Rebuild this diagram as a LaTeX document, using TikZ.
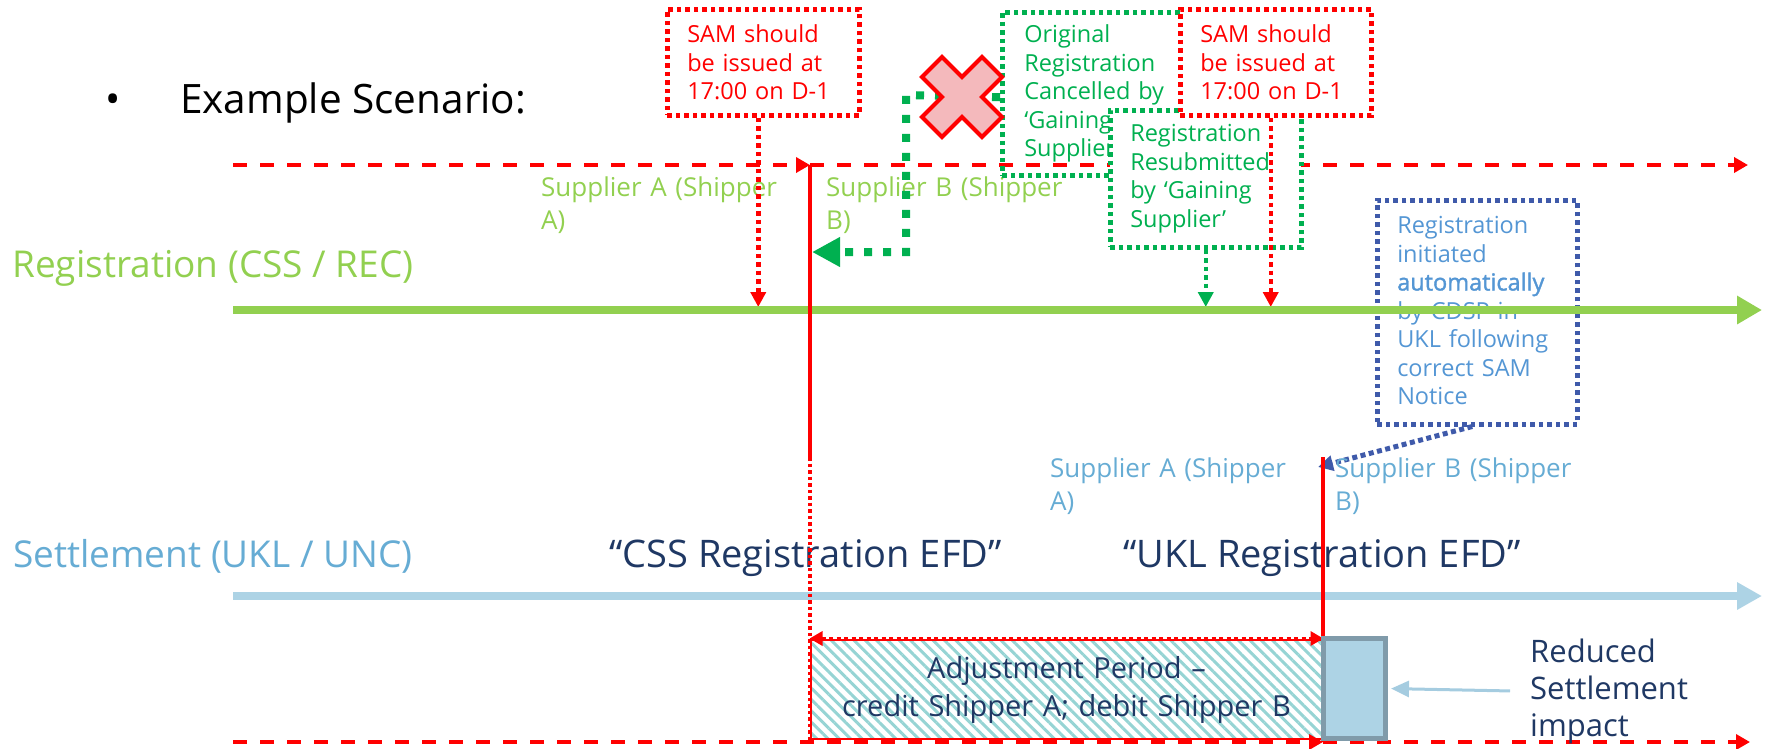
\documentclass[tikz,border=0pt]{standalone}
\usepackage{fontspec}
\setmainfont{Open Sans}
\newfontfamily\fSemi[FakeBold=1.6]{Open Sans}
\usetikzlibrary{arrows.meta,patterns.meta}
\definecolor{cRed}{RGB}{255,0,0}
\definecolor{cLGreen}{RGB}{146,208,80}
\definecolor{cDGreen}{RGB}{0,176,80}
\definecolor{cLine}{RGB}{173,211,229}
\definecolor{cSet}{RGB}{102,172,212}
\definecolor{cBoxTxt}{RGB}{84,150,212}
\definecolor{cDBlue}{RGB}{63,90,170}
\definecolor{cNavy}{RGB}{31,56,100}
\definecolor{cHatch}{RGB}{150,212,212}
\definecolor{cPink}{RGB}{244,185,188}
\definecolor{cBord}{RGB}{128,155,170}
\definecolor{cArr}{RGB}{165,204,224}
\newcommand\fTitle{\fontsize{40.5}{48}\selectfont}
\newcommand\fLane{\fontsize{37}{44}\selectfont}
\newcommand\fEfd{\fontsize{38}{44}\selectfont}
\newcommand\fBox{\fontsize{23.5}{28.5}\selectfont\hyphenpenalty=10000\exhyphenpenalty=10000}
\newcommand\fSup{\fontsize{26}{33}\selectfont}
\newcommand\fAdj{\fontsize{29}{38}\selectfont}
\newcommand\fRed{\fontsize{31}{37}\selectfont}
\tikzset{
  lbl/.style={inner sep=0pt, anchor=base west},
  mlbl/.style={inner sep=0pt, anchor=base west, text width=#1, align=left},
  dotbox/.style={line width=4.5pt, dash pattern=on 4.5pt off 4pt, inner xsep=20pt, inner ysep=0pt, anchor=north west, align=left, font=\fBox},
  rdash/.style={draw=cRed, line width=4.5pt, dash pattern=on 14pt off 13pt, -{Triangle[length=14pt,width=15pt]}},
  rdot/.style={draw=cRed, line width=4.5pt, dash pattern=on 4.5pt off 4pt},
  gdot/.style={draw=cDGreen, line width=4.5pt, dash pattern=on 4.5pt off 4pt},
  bdot/.style={draw=cDBlue, line width=5pt, dash pattern=on 5pt off 3.5pt, -{Triangle[length=15pt,width=15pt]}},
  tipd/.style={-{Triangle[length=15pt,width=15pt]}},
  gthick/.style={draw=cDGreen, line width=8pt, dash pattern=on 8pt off 11pt, -{Triangle[length=28pt,width=28pt]}},
  xmark/.style={draw=cRed, fill=cPink, line width=4pt, line join=miter},
  gline/.style={draw=cLGreen, line width=7.5pt, -{Triangle[length=25pt,width=27pt]}},
  sline/.style={draw=cLine, line width=8.5pt, -{Triangle[length=25pt,width=26pt]}},
  rsolid/.style={draw=cRed, line width=3.5pt},
  rthin/.style={draw=cRed, line width=3.5pt, dash pattern=on 3.5pt off 3pt},
  rdot2/.style={draw=cRed, line width=4pt, dash pattern=on 4pt off 3.5pt, {Triangle[length=13pt,width=14pt]}-{Triangle[length=13pt,width=14pt]}},
  adjbox/.style={draw=cRed, line width=1.5pt, pattern={Lines[angle=-45,distance=8pt,line width=3pt]}, pattern color=cHatch, minimum width=511pt, minimum height=99pt, text width=505pt, inner sep=0pt, align=center, font=\fAdj, text=cNavy},
  rbox/.style={draw=cBord, fill=cLine, line width=5pt, minimum width=62pt, minimum height=100pt, inner sep=0pt},
  larrow/.style={draw=cArr, line width=3pt, shorten >=3pt, -{Triangle[length=18pt,width=16pt]}}
}
\begin{document}
\begin{tikzpicture}[x=1pt,y=-1pt]
\useasboundingbox (0,0) rectangle (1768,748);
\coordinate (ts) at (233,165);
\coordinate (tm) at (810,165);
\coordinate (te) at (1748,165);
\coordinate (rs) at (233,310);
\coordinate (re) at (1762,310);
\coordinate (ss) at (233,596);
\coordinate (se) at (1762,596);
\coordinate (bs) at (233,742);
\coordinate (bm) at (1323,742);
\coordinate (be) at (1750,742);
\coordinate (v1m) at (810,457);
\coordinate (v1b) at (810,742);
\coordinate (v2t) at (1323,457);
\coordinate (v2a) at (1318,467);
\coordinate (gtip) at (812,252);
\coordinate (xc) at (962,97);

\node[lbl, font=\fTitle] (title) at (105,113) {\makebox[75pt][l]{•}Example Scenario:};

\draw[rdash] (ts) -- (tm);
\draw[rdash] (tm) -- (te);

\node[mlbl=260pt, font=\fSup, text=cLGreen] (supA) at (541,196) {Supplier A (Shipper\\A)};
\node[mlbl=260pt, font=\fSup, text=cLGreen] (supB) at (826,196) {Supplier B (Shipper\\B)};

\node[dotbox, draw=cDGreen, text=cDGreen, text width=146pt, inner xsep=22pt, minimum height=163pt] (orig) at (1000,10) {Original\\Registration\\Cancelled by\\‘Gaining\\Supplier’};

\draw[gthick] ([yshift=-3.5pt]orig.west) -- (906,95) -- (906,252) -- (gtip);
\draw[xmark] (xc) ++(0,-20) -- ++(20,-20) -- ++(20,20) -- ++(-20,20) -- ++(20,20) -- ++(-20,20) -- ++(-20,-20) -- ++(-20,20) -- ++(-20,-20) -- ++(20,-20) -- ++(-20,-20) -- ++(20,-20) -- cycle;

\node[dotbox, draw=cDGreen, fill=white, text=cDGreen, text width=151pt, minimum height=137pt] (resub) at (1108,108) {Registration\\Resubmitted\\by ‘Gaining\\Supplier’};

\node[dotbox, draw=cRed, fill=white, text=cRed, text width=152pt, minimum height=106pt] (sam1) at (665,7) {SAM should\\be issued at\\17:00 on D-1};
\node[dotbox, draw=cRed, fill=white, text=cRed, text width=151pt, minimum height=106pt] (sam2) at (1178,7) {SAM should\\be issued at\\17:00 on D-1};

\draw[rdot, tipd, shorten >=3pt] ([xshift=-5pt]sam1.south) -- ([xshift=-5pt]sam1.south |- rs);
\draw[rdot, tipd, shorten >=3pt] ([xshift=-5pt]sam2.south) -- ([xshift=-5pt]sam2.south |- rs);
\draw[gdot, tipd, shorten >=3pt] (resub.south) -- (resub.south |- rs);

\node[dotbox, draw=cDBlue, text=cBoxTxt, text width=160pt, minimum height=224pt, text height=17.5pt, text depth=175pt] (auto) at (1375,198) {Registration\\initiated\\{\fSemi automatically}\\by CDSP in\\UKL following\\correct SAM\\Notice};
\draw[bdot] ([xshift=-5pt]auto.south) -- (v2a);

\draw[gline] (rs) -- (re);

\node[lbl, font=\fLane, text=cLGreen] (reglbl) at (12,277) {Registration (CSS / REC)};
\node[lbl, font=\fLane, text=cSet] (setlbl) at (13,567) {Settlement (UKL / UNC)};
\node[lbl, font=\fEfd, text=cNavy] (cssefd) at (609,567) {“CSS Registration EFD”};
\node[lbl, font=\fEfd, text=cNavy] (uklefd) at (1123,567) {“UKL Registration EFD”};

\node[mlbl=260pt, font=\fSup, text=cSet] (supA2) at (1050,477) {Supplier A (Shipper\\A)};
\node[mlbl=260pt, font=\fSup, text=cSet] (supB2) at (1335,477) {Supplier B (Shipper\\B)};

\draw[sline] (ss) -- (se);

\node[adjbox] (adj) at (1066.5,689.5) {Adjustment Period –\\credit Shipper A; debit Shipper B};

\draw[rsolid] (tm) -- (v1m);
\draw[rthin] (v1m) -- (v1b);
\draw[rsolid] (v2t) -- (bm);
\draw[rdot2] (adj.north west) -- (adj.north east);

\draw[rdash] (bs) -- (bm);
\draw[rdash] (bm) -- (be);

\node[rbox] (redbox) at (1354.5,688.5) {};
\node[mlbl=200pt, font=\fRed, text=cNavy] (redtxt) at (1530,662) {Reduced\\Settlement\\impact};
\draw[larrow] ([xshift=-20pt]redtxt.west) -- (redbox.east);
\end{tikzpicture}
\end{document}
